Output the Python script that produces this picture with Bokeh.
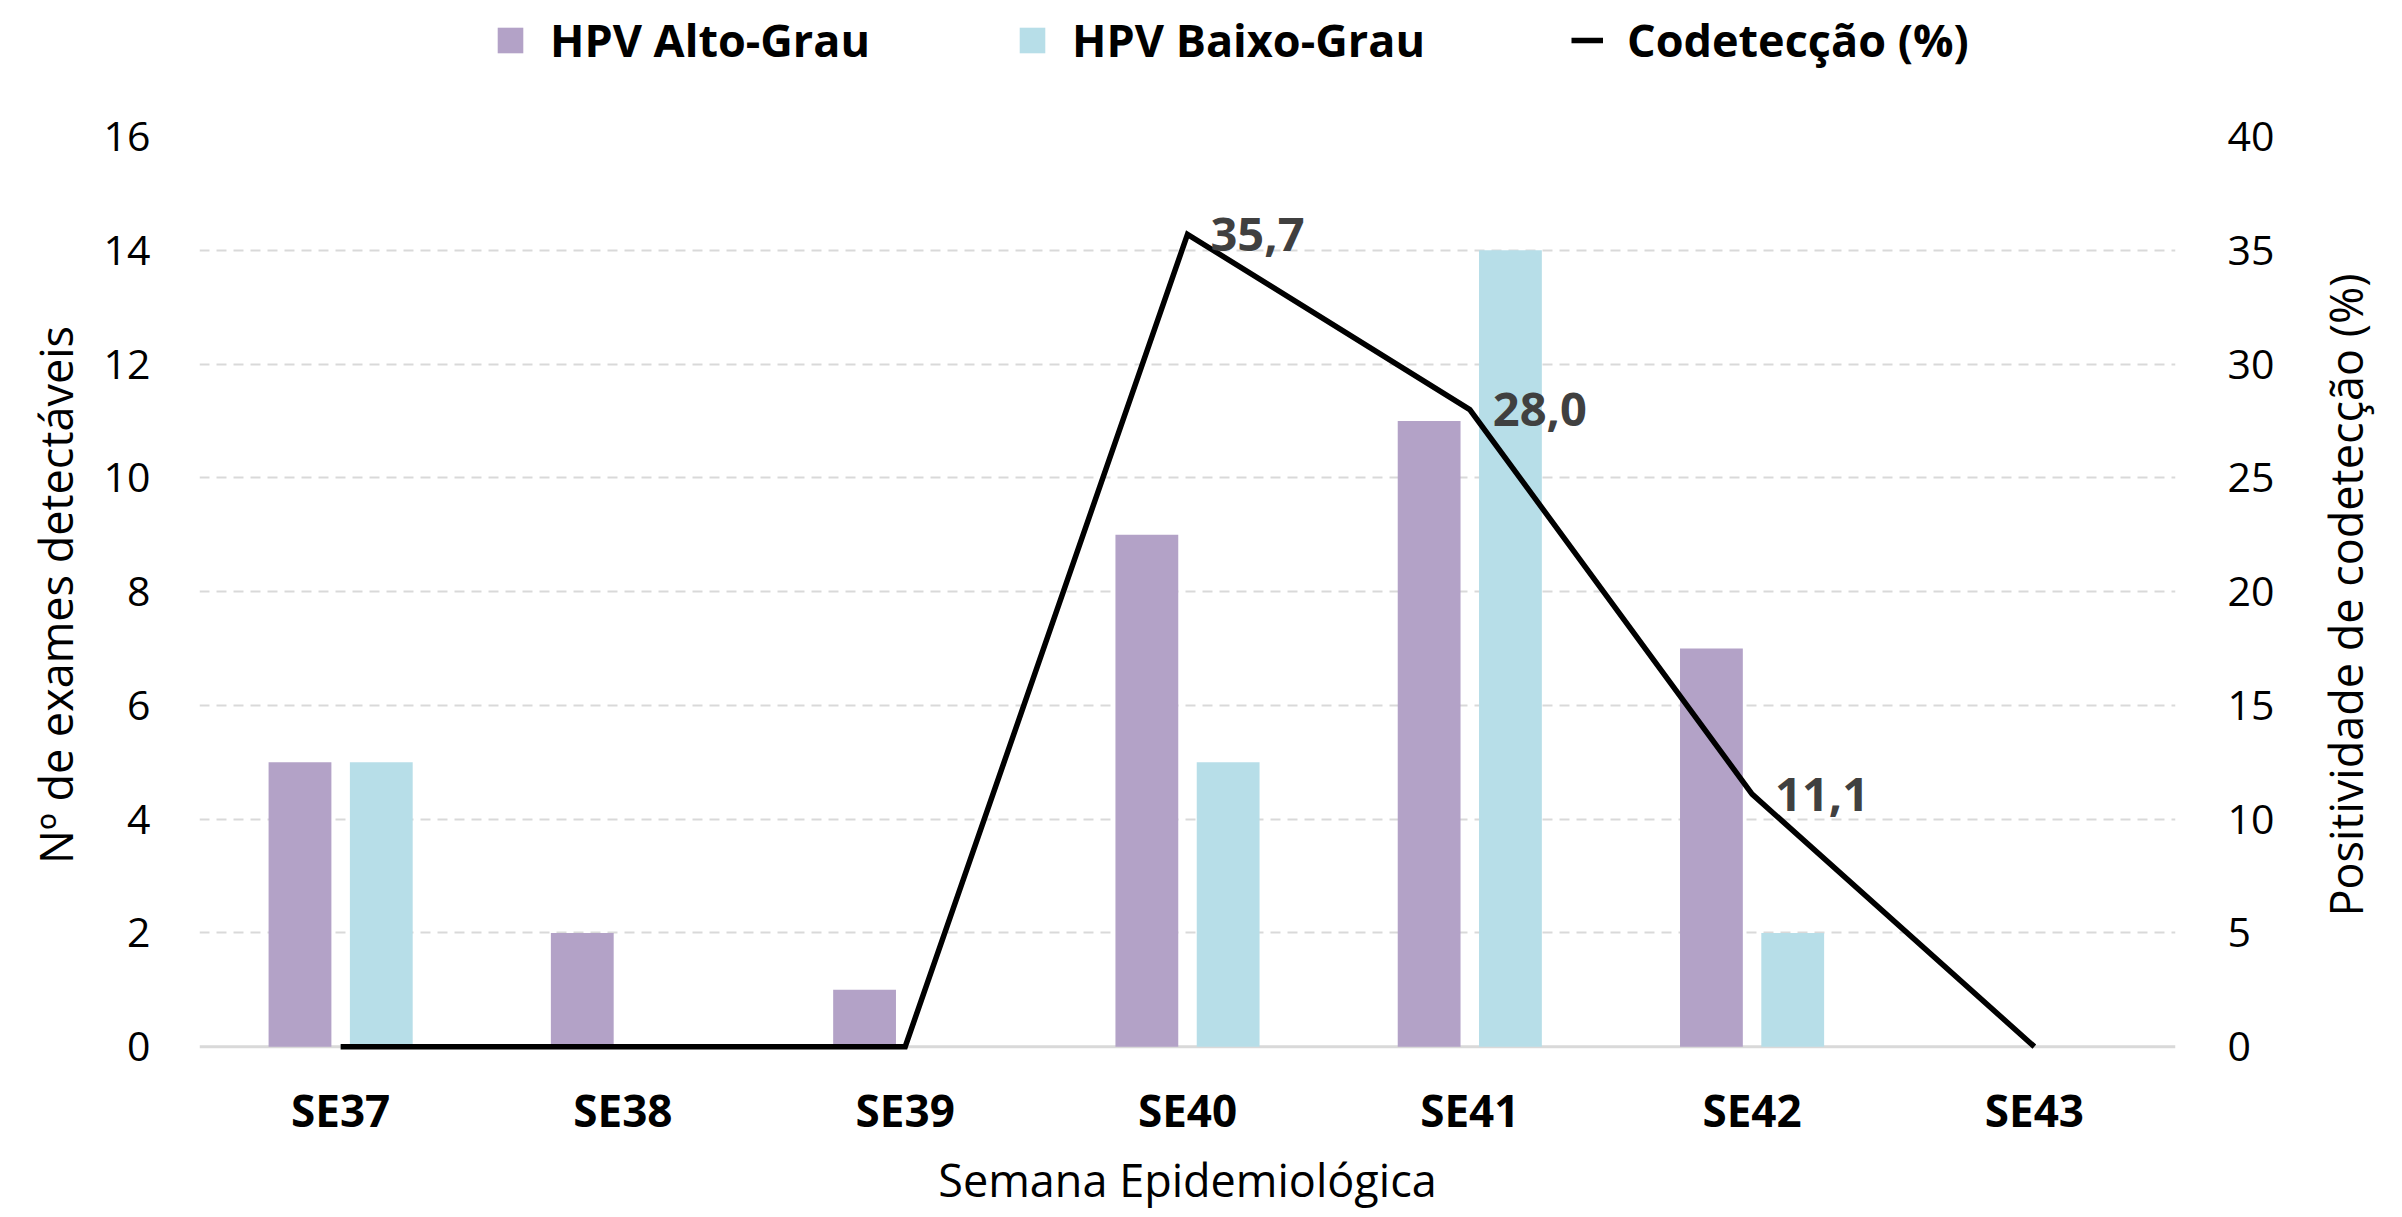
from bokeh.plotting import figure
from bokeh.layouts import column, row
from bokeh.models import (ColumnDataSource, FactorRange, Range1d, LinearAxis, FixedTicker,
                          Legend, LegendItem, Span, Title)
from bokeh.transform import dodge
from bokeh.core.properties import value
from bokeh.embed import file_html
from bokeh.resources import INLINE

weeks = ["SE37", "SE38", "SE39", "SE40", "SE41", "SE42", "SE43"]
alto_grau = [5, 2, 1, 9, 11, 7, 0]
baixo_grau = [5, 0, 0, 5, 14, 2, 0]
codeteccao = [0.0, 0.0, 0.0, 35.7, 28.0, 11.1, 0.0]
left_ticks = [0, 2, 4, 6, 8, 10, 12, 14, 16]
right_ticks = [0, 5, 10, 15, 20, 25, 30, 35, 40]

labels = [("%.1f" % v).replace(".", ",") if v > 0 else "" for v in codeteccao]
src = ColumnDataSource(dict(cat=weeks, alto=alto_grau, baixo=baixo_grau,
                            pct=codeteccao, lbl=labels))

FONT = "Open Sans"
C_ALTO, C_BAIXO = "#b3a2c7", "#b7dee8"
TOP_H, MAIN_W, MAIN_H, RIGHT_W = 100, 2310, 1117, 92
BORDER_TOP, BORDER_BOTTOM = 36, 164

# ---------------- main chart ----------------
p = figure(x_range=FactorRange(factors=weeks, range_padding=0),
           y_range=Range1d(-0.12, 16), width=MAIN_W, height=MAIN_H,
           output_backend="svg", toolbar_location=None,
           min_border_left=199, min_border_right=135,
           min_border_top=BORDER_TOP, min_border_bottom=BORDER_BOTTOM)
p.extra_y_ranges = {"pct": Range1d(-0.3, 40)}
p.outline_line_color = None

p.add_layout(Span(location=0, dimension="width", line_color="#d9d9d9", line_width=3,
                  level="underlay"))
p.vbar(x=dodge("cat", -0.144, range=p.x_range), top="alto", width=0.2225,
       source=src, fill_color=C_ALTO, line_color=None)
p.vbar(x=dodge("cat", 0.144, range=p.x_range), top="baixo", width=0.2225,
       source=src, fill_color=C_BAIXO, line_color=None)
p.line(x="cat", y="pct", source=src, y_range_name="pct",
       line_color="black", line_width=5.5, line_join="miter")
p.text(x="cat", y="pct", text="lbl", source=src, y_range_name="pct",
       x_offset=23, text_baseline="middle", text_align="left",
       text_font=value(FONT), text_font_style="bold", text_font_size="47px",
       text_color="#404040")

p.xgrid.visible = False
p.ygrid.ticker = FixedTicker(ticks=left_ticks[1:])
p.ygrid.grid_line_color = "#d9d9d9"
p.ygrid.grid_line_width = 2
p.ygrid.grid_line_dash = "10 7"

ya = p.yaxis[0]
ya.ticker = FixedTicker(ticks=left_ticks)
ya.axis_label = "Nº de exames detectáveis"
ra = LinearAxis(y_range_name="pct", ticker=FixedTicker(ticks=right_ticks))
p.add_layout(ra, "right")

for ax in [ya, ra]:
    ax.axis_line_color = None
    ax.major_tick_line_color = None
    ax.minor_tick_line_color = None
    ax.major_tick_out = 0
    ax.major_label_text_font = FONT
    ax.major_label_text_font_size = "41px"
    ax.major_label_text_color = "black"
    ax.axis_label_text_font = FONT
    ax.axis_label_text_font_size = "45px"
    ax.axis_label_text_font_style = "normal"
    ax.axis_label_text_color = "black"
ya.major_label_standoff = 49
ya.axis_label_standoff = 15
ra.major_label_standoff = 52

xa = p.xaxis[0]
xa.axis_label = "Semana Epidemiológica"
xa.axis_line_color = None
xa.major_tick_line_color = None
xa.minor_tick_line_color = None
xa.major_tick_out = 0
xa.major_label_text_font = FONT
xa.major_label_text_font_size = "44px"
xa.major_label_text_font_style = "bold"
xa.major_label_text_color = "black"
xa.major_label_standoff = 26
xa.axis_label_text_font = FONT
xa.axis_label_text_font_size = "45px"
xa.axis_label_text_font_style = "normal"
xa.axis_label_text_color = "black"
xa.axis_label_standoff = 6

# ---------------- right-hand axis title (reads bottom to top) ----------------
rt = figure(width=RIGHT_W, height=MAIN_H, x_axis_type=None, y_axis_type=None,
            output_backend="svg", toolbar_location=None,
            min_border_left=65, min_border_right=0,
            min_border_top=BORDER_TOP, min_border_bottom=BORDER_BOTTOM)
rt.outline_line_color = None
rt.grid.visible = False
rt.add_layout(Title(text="Positividade de codetecção (%)", align="center",
                    text_font=FONT, text_font_size="45px", text_font_style="normal",
                    text_color="black", standoff=0, offset=0), "left")

# ---------------- legend strip ----------------
lg = figure(width=MAIN_W + RIGHT_W, height=TOP_H,
            x_range=p.x_range, y_range=Range1d(100, 101),
            x_axis_type=None, y_axis_type=None,
            output_backend="svg", toolbar_location=None, min_border=0)
lg.outline_line_color = None
lg.grid.visible = False
k_alto = lg.vbar(x="cat", top="alto", width=0.2, source=src,
                 fill_color=C_ALTO, line_color=None)
k_baixo = lg.vbar(x="cat", top="baixo", width=0.2, source=src,
                  fill_color=C_BAIXO, line_color=None)
k_line = lg.line(x="cat", y="pct", source=src, line_color="black", line_width=5.5)
legend = Legend(items=[LegendItem(label="HPV Alto-Grau", renderers=[k_alto]),
                       LegendItem(label="HPV Baixo-Grau", renderers=[k_baixo]),
                       LegendItem(label="Codetecção (%)", renderers=[k_line])],
                orientation="horizontal", location=(494, 30),
                glyph_width=32, glyph_height=32, label_standoff=24, spacing=146,
                padding=5, margin=0, border_line_color=None,
                background_fill_alpha=0,
                label_text_font=FONT, label_text_font_style="bold",
                label_text_font_size="45px", label_text_color="black")
lg.add_layout(legend, "center")

layout = column(lg, row(p, rt))
open("out.html", "w").write(file_html(layout, INLINE))
